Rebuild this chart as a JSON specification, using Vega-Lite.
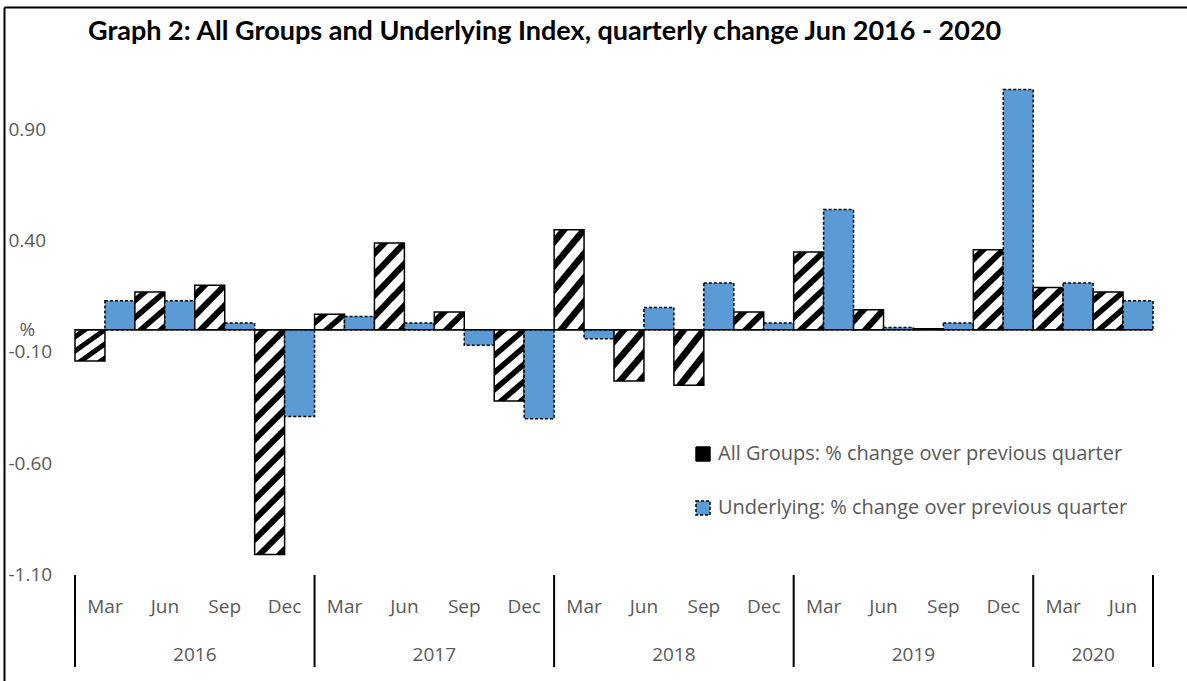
{
  "$schema": "https://vega.github.io/schema/vega-lite/v6.json",
  "width": 1183,
  "height": 674,
  "padding": {"left": 4, "top": 7, "right": 0, "bottom": 0},
  "autosize": {"type": "none"},
  "background": "white",
  "config": {"view": {"stroke": null}, "font": "Open Sans"},
  "title": {
    "text": "Graph 2: All Groups and Underlying Index, quarterly change Jun 2016 - 2020",
    "anchor": "start", "frame": "group", "orient": "top", "offset": 0,
    "dx": 84, "dy": 60, "baseline": "alphabetic",
    "font": "Lato", "fontSize": 27, "fontWeight": "bold", "color": "black"
  },
  "data": {"values": [
    {"q": "2016 Mar", "year": "2016", "month": "Mar", "series": "All Groups: % change over previous quarter", "value": -0.14},
    {"q": "2016 Mar", "year": "2016", "month": "Mar", "series": "Underlying: % change over previous quarter", "value": 0.13},
    {"q": "2016 Jun", "year": "2016", "month": "Jun", "series": "All Groups: % change over previous quarter", "value": 0.17},
    {"q": "2016 Jun", "year": "2016", "month": "Jun", "series": "Underlying: % change over previous quarter", "value": 0.13},
    {"q": "2016 Sep", "year": "2016", "month": "Sep", "series": "All Groups: % change over previous quarter", "value": 0.20},
    {"q": "2016 Sep", "year": "2016", "month": "Sep", "series": "Underlying: % change over previous quarter", "value": 0.03},
    {"q": "2016 Dec", "year": "2016", "month": "Dec", "series": "All Groups: % change over previous quarter", "value": -1.01},
    {"q": "2016 Dec", "year": "2016", "month": "Dec", "series": "Underlying: % change over previous quarter", "value": -0.39},
    {"q": "2017 Mar", "year": "2017", "month": "Mar", "series": "All Groups: % change over previous quarter", "value": 0.07},
    {"q": "2017 Mar", "year": "2017", "month": "Mar", "series": "Underlying: % change over previous quarter", "value": 0.06},
    {"q": "2017 Jun", "year": "2017", "month": "Jun", "series": "All Groups: % change over previous quarter", "value": 0.39},
    {"q": "2017 Jun", "year": "2017", "month": "Jun", "series": "Underlying: % change over previous quarter", "value": 0.03},
    {"q": "2017 Sep", "year": "2017", "month": "Sep", "series": "All Groups: % change over previous quarter", "value": 0.08},
    {"q": "2017 Sep", "year": "2017", "month": "Sep", "series": "Underlying: % change over previous quarter", "value": -0.07},
    {"q": "2017 Dec", "year": "2017", "month": "Dec", "series": "All Groups: % change over previous quarter", "value": -0.32},
    {"q": "2017 Dec", "year": "2017", "month": "Dec", "series": "Underlying: % change over previous quarter", "value": -0.40},
    {"q": "2018 Mar", "year": "2018", "month": "Mar", "series": "All Groups: % change over previous quarter", "value": 0.45},
    {"q": "2018 Mar", "year": "2018", "month": "Mar", "series": "Underlying: % change over previous quarter", "value": -0.04},
    {"q": "2018 Jun", "year": "2018", "month": "Jun", "series": "All Groups: % change over previous quarter", "value": -0.23},
    {"q": "2018 Jun", "year": "2018", "month": "Jun", "series": "Underlying: % change over previous quarter", "value": 0.10},
    {"q": "2018 Sep", "year": "2018", "month": "Sep", "series": "All Groups: % change over previous quarter", "value": -0.25},
    {"q": "2018 Sep", "year": "2018", "month": "Sep", "series": "Underlying: % change over previous quarter", "value": 0.21},
    {"q": "2018 Dec", "year": "2018", "month": "Dec", "series": "All Groups: % change over previous quarter", "value": 0.08},
    {"q": "2018 Dec", "year": "2018", "month": "Dec", "series": "Underlying: % change over previous quarter", "value": 0.03},
    {"q": "2019 Mar", "year": "2019", "month": "Mar", "series": "All Groups: % change over previous quarter", "value": 0.35},
    {"q": "2019 Mar", "year": "2019", "month": "Mar", "series": "Underlying: % change over previous quarter", "value": 0.54},
    {"q": "2019 Jun", "year": "2019", "month": "Jun", "series": "All Groups: % change over previous quarter", "value": 0.09},
    {"q": "2019 Jun", "year": "2019", "month": "Jun", "series": "Underlying: % change over previous quarter", "value": 0.01},
    {"q": "2019 Sep", "year": "2019", "month": "Sep", "series": "All Groups: % change over previous quarter", "value": 0.005},
    {"q": "2019 Sep", "year": "2019", "month": "Sep", "series": "Underlying: % change over previous quarter", "value": 0.03},
    {"q": "2019 Dec", "year": "2019", "month": "Dec", "series": "All Groups: % change over previous quarter", "value": 0.36},
    {"q": "2019 Dec", "year": "2019", "month": "Dec", "series": "Underlying: % change over previous quarter", "value": 1.08},
    {"q": "2020 Mar", "year": "2020", "month": "Mar", "series": "All Groups: % change over previous quarter", "value": 0.19},
    {"q": "2020 Mar", "year": "2020", "month": "Mar", "series": "Underlying: % change over previous quarter", "value": 0.21},
    {"q": "2020 Jun", "year": "2020", "month": "Jun", "series": "All Groups: % change over previous quarter", "value": 0.17},
    {"q": "2020 Jun", "year": "2020", "month": "Jun", "series": "Underlying: % change over previous quarter", "value": 0.13}
  ]},
  "layer": [
    {
      "mark": {"type": "bar", "stroke": "black", "strokeWidth": 1.5},
      "encoding": {
        "x": {
          "field": "q", "type": "nominal",
          "scale": {
            "domain": ["2016 Mar","2016 Jun","2016 Sep","2016 Dec","2017 Mar","2017 Jun","2017 Sep","2017 Dec","2018 Mar","2018 Jun","2018 Sep","2018 Dec","2019 Mar","2019 Jun","2019 Sep","2019 Dec","2020 Mar","2020 Jun"],
            "paddingInner": 0, "paddingOuter": 0.8766, "align": 0.6762
          },
          "axis": {"orient": "top", "domain": true, "domainColor": "black", "domainWidth": 2, "labels": false, "ticks": false, "grid": false, "title": null}
        },
        "xOffset": {
          "field": "series", "type": "nominal",
          "scale": {"domain": ["All Groups: % change over previous quarter", "Underlying: % change over previous quarter"], "paddingInner": 0, "paddingOuter": 0}
        },
        "y": {
          "field": "value", "type": "quantitative",
          "scale": {"domain": [-1.5787, 1.4506], "nice": false},
          "axis": {
            "values": [0.9, 0.4, -0.1, -0.6, -1.1], "format": ".2f",
            "labelExpr": "replace(datum.label, '−', '-')",
            "labelAlign": "left", "labelBaseline": "middle", "labelPadding": -4, "labelFlush": false,
            "ticks": false, "tickSize": 0, "grid": false,
            "domain": true, "domainColor": "black", "domainWidth": 2,
            "labelColor": "#595959", "labelFontSize": 19, "labelFont": "Open Sans",
            "title": "%", "titleAngle": 0, "titleX": 15, "titleY": 328, "titleAlign": "left", "titleBaseline": "alphabetic",
            "titleFontWeight": "normal", "titleFontSize": 19, "titleColor": "#595959", "titleFont": "Open Sans"
          }
        },
        "y2": {"datum": 0},
        "fill": {
          "condition": [
            {"test": "datum.series === 'All Groups: % change over previous quarter' && abs(datum.value) < 0.12",
             "value": {"gradient": "linear", "x1": 0, "y1": 0, "x2": 1.1765, "y2": 0.7059, "stops": [
               {"offset": 0, "color": "#ffffff"}, {"offset": 0.104, "color": "#ffffff"}, {"offset": 0.133, "color": "#000000"}, {"offset": 0.283, "color": "#000000"}, {"offset": 0.313, "color": "#ffffff"},
               {"offset": 0.521, "color": "#ffffff"}, {"offset": 0.55, "color": "#000000"}, {"offset": 0.7, "color": "#000000"}, {"offset": 0.729, "color": "#ffffff"},
               {"offset": 0.938, "color": "#ffffff"}, {"offset": 0.967, "color": "#000000"}, {"offset": 1, "color": "#000000"}]}},
            {"test": "datum.series === 'All Groups: % change over previous quarter' && abs(datum.value) < 0.28",
             "value": {"gradient": "linear", "x1": 0, "y1": 0, "x2": 0.7828, "y2": 1.1481, "stops": [
               {"offset": 0, "color": "#ffffff"}, {"offset": 0.0676, "color": "#ffffff"}, {"offset": 0.0865, "color": "#000000"}, {"offset": 0.1838, "color": "#000000"}, {"offset": 0.2027, "color": "#ffffff"},
               {"offset": 0.3378, "color": "#ffffff"}, {"offset": 0.3568, "color": "#000000"}, {"offset": 0.4541, "color": "#000000"}, {"offset": 0.473, "color": "#ffffff"},
               {"offset": 0.6081, "color": "#ffffff"}, {"offset": 0.627, "color": "#000000"}, {"offset": 0.7243, "color": "#000000"}, {"offset": 0.7432, "color": "#ffffff"},
               {"offset": 0.8784, "color": "#ffffff"}, {"offset": 0.8973, "color": "#000000"}, {"offset": 1, "color": "#000000"}]}},
            {"test": "datum.series === 'All Groups: % change over previous quarter' && abs(datum.value) < 0.6",
             "value": {"gradient": "linear", "x1": 0, "y1": 0, "x2": 0.4352, "y2": 1.2041, "stops": [
               {"offset": 0, "color": "#ffffff"}, {"offset": 0.0442, "color": "#ffffff"}, {"offset": 0.0566, "color": "#000000"}, {"offset": 0.1204, "color": "#000000"}, {"offset": 0.1327, "color": "#ffffff"},
               {"offset": 0.2212, "color": "#ffffff"}, {"offset": 0.2336, "color": "#000000"}, {"offset": 0.2973, "color": "#000000"}, {"offset": 0.3097, "color": "#ffffff"},
               {"offset": 0.3982, "color": "#ffffff"}, {"offset": 0.4106, "color": "#000000"}, {"offset": 0.4743, "color": "#000000"}, {"offset": 0.4867, "color": "#ffffff"},
               {"offset": 0.5752, "color": "#ffffff"}, {"offset": 0.5876, "color": "#000000"}, {"offset": 0.6513, "color": "#000000"}, {"offset": 0.6637, "color": "#ffffff"},
               {"offset": 0.7522, "color": "#ffffff"}, {"offset": 0.7646, "color": "#000000"}, {"offset": 0.8283, "color": "#000000"}, {"offset": 0.8407, "color": "#ffffff"},
               {"offset": 0.9292, "color": "#ffffff"}, {"offset": 0.9416, "color": "#000000"}, {"offset": 1, "color": "#000000"}]}},
            {"test": "datum.series === 'All Groups: % change over previous quarter'",
             "value": {"gradient": "linear", "x1": 0, "y1": 0, "x2": 0.1485, "y2": 1.1135, "stops": [
               {"offset": 0, "color": "#ffffff"}, {"offset": 0.0196, "color": "#ffffff"}, {"offset": 0.0251, "color": "#000000"}, {"offset": 0.0533, "color": "#000000"}, {"offset": 0.0588, "color": "#ffffff"},
               {"offset": 0.098, "color": "#ffffff"}, {"offset": 0.1035, "color": "#000000"}, {"offset": 0.1318, "color": "#000000"}, {"offset": 0.1373, "color": "#ffffff"},
               {"offset": 0.1765, "color": "#ffffff"}, {"offset": 0.182, "color": "#000000"}, {"offset": 0.2102, "color": "#000000"}, {"offset": 0.2157, "color": "#ffffff"},
               {"offset": 0.2549, "color": "#ffffff"}, {"offset": 0.2604, "color": "#000000"}, {"offset": 0.2886, "color": "#000000"}, {"offset": 0.2941, "color": "#ffffff"},
               {"offset": 0.3333, "color": "#ffffff"}, {"offset": 0.3388, "color": "#000000"}, {"offset": 0.3671, "color": "#000000"}, {"offset": 0.3725, "color": "#ffffff"},
               {"offset": 0.4118, "color": "#ffffff"}, {"offset": 0.4173, "color": "#000000"}, {"offset": 0.4455, "color": "#000000"}, {"offset": 0.451, "color": "#ffffff"},
               {"offset": 0.4902, "color": "#ffffff"}, {"offset": 0.4957, "color": "#000000"}, {"offset": 0.5239, "color": "#000000"}, {"offset": 0.5294, "color": "#ffffff"},
               {"offset": 0.5686, "color": "#ffffff"}, {"offset": 0.5741, "color": "#000000"}, {"offset": 0.6024, "color": "#000000"}, {"offset": 0.6078, "color": "#ffffff"},
               {"offset": 0.6471, "color": "#ffffff"}, {"offset": 0.6525, "color": "#000000"}, {"offset": 0.6808, "color": "#000000"}, {"offset": 0.6863, "color": "#ffffff"},
               {"offset": 0.7255, "color": "#ffffff"}, {"offset": 0.731, "color": "#000000"}, {"offset": 0.7592, "color": "#000000"}, {"offset": 0.7647, "color": "#ffffff"},
               {"offset": 0.8039, "color": "#ffffff"}, {"offset": 0.8094, "color": "#000000"}, {"offset": 0.8376, "color": "#000000"}, {"offset": 0.8431, "color": "#ffffff"},
               {"offset": 0.8824, "color": "#ffffff"}, {"offset": 0.8878, "color": "#000000"}, {"offset": 0.9161, "color": "#000000"}, {"offset": 0.9216, "color": "#ffffff"},
               {"offset": 0.9608, "color": "#ffffff"}, {"offset": 0.9663, "color": "#000000"}, {"offset": 0.9945, "color": "#000000"}, {"offset": 1, "color": "#ffffff"}]}}
          ],
          "field": "series", "type": "nominal",
          "scale": {"domain": ["All Groups: % change over previous quarter", "Underlying: % change over previous quarter"], "range": ["#000000", "#5B9BD5"]},
          "legend": {
            "title": null, "orient": "none", "legendX": 689, "legendY": 437,
            "symbolType": "square", "symbolSize": 196, "symbolStrokeColor": "black", "symbolStrokeWidth": 1.5,
            "labelFontSize": 20, "labelColor": "#595959", "labelFont": "Open Sans", "labelOffset": 5, "labelLimit": 0, "rowPadding": 34,
            "encode": {"symbols": {"update": {
              "shape": {
                "condition": {"test": "datum.index === 0", "value": "M-1,-1L1,-1L1,1L-1,1L-1,-1L-1,1L1,1L1,-1ZM1,-1L1,1L-1,1Z"},
                "value": "square"
              },
              "stroke": {"value": "black"},
              "strokeWidth": {"value": 1.5},
              "strokeDash": {
                "condition": {"test": "datum.index === 0", "value": [1, 0]},
                "value": [3, 2]
              },
              "opacity": {"value": 1}
            }}}
          }
        },
        "strokeDash": {
          "field": "series", "type": "nominal",
          "scale": {"domain": ["All Groups: % change over previous quarter", "Underlying: % change over previous quarter"], "range": [[1, 0], [3, 2]]},
          "legend": null
        }
      }
    },
    {
      "transform": [{"filter": "datum.series === 'All Groups: % change over previous quarter'"}],
      "mark": {"type": "bar", "filled": false, "stroke": "black", "strokeWidth": 1.5},
      "encoding": {
        "x": {"field": "q", "type": "nominal"},
        "y": {"datum": 0},
        "y2": {"datum": 0}
      }
    },
    {
      "transform": [{"filter": "datum.series === 'All Groups: % change over previous quarter'"}],
      "mark": {"type": "text", "fontSize": 19, "color": "#595959", "baseline": "middle", "font": "Open Sans"},
      "encoding": {
        "x": {"field": "q", "type": "nominal"},
        "y": {"datum": -1.2461},
        "text": {"field": "month"}
      }
    },
    {
      "transform": [{"filter": "datum.series === 'All Groups: % change over previous quarter' && (datum.month === 'Sep' || datum.q === '2020 Jun')"}],
      "mark": {"type": "text", "fontSize": 19, "color": "#595959", "baseline": "middle", "font": "Open Sans"},
      "encoding": {
        "x": {"field": "q", "type": "nominal", "bandPosition": 0},
        "y": {"datum": -1.4618},
        "text": {"field": "year"}
      }
    },
    {
      "transform": [{"filter": "datum.series === 'All Groups: % change over previous quarter' && datum.month === 'Mar'"}],
      "mark": {"type": "rule", "color": "black", "strokeWidth": 2},
      "encoding": {
        "x": {"field": "q", "type": "nominal", "bandPosition": 0},
        "y": {"datum": -1.1022},
        "y2": {"datum": -1.5157}
      }
    },
    {
      "transform": [{"filter": "datum.series === 'All Groups: % change over previous quarter' && datum.q === '2020 Jun'"}],
      "mark": {"type": "rule", "color": "black", "strokeWidth": 2},
      "encoding": {
        "x": {"field": "q", "type": "nominal", "bandPosition": 1},
        "y": {"datum": -1.1022},
        "y2": {"datum": -1.5157}
      }
    }
  ]
}
